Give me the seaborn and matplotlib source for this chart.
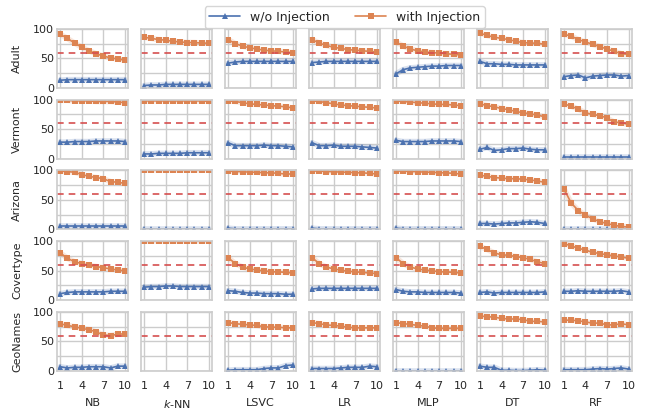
import numpy as np
import pandas as pd
import seaborn as sns
import matplotlib.pyplot as plt

models = ["NB", "$k$-NN", "LSVC", "LR", "MLP", "DT", "RF"]
datasets = ["Adult", "Vermont", "Arizona", "Covertype", "GeoNames"]
steps = list(range(1, 11))
threshold = 60

# rows = models (NB, k-NN, LSVC, LR, MLP, DT, RF), 10 values each
adult_wo = [
    [13, 14, 14, 14, 14, 14, 14, 14, 14, 14],
    [4, 5, 5, 6, 6, 6, 6, 6, 6, 6],
    [42, 44, 45, 45, 45, 45, 45, 45, 45, 45],
    [43, 44, 45, 45, 45, 45, 45, 45, 45, 45],
    [24, 31, 34, 35, 36, 37, 37, 38, 38, 38],
    [45, 41, 41, 40, 40, 39, 39, 39, 39, 39],
    [19, 21, 22, 17, 20, 21, 22, 22, 20, 21],
]
adult_with = [
    [91, 84, 76, 69, 63, 58, 54, 51, 49, 47],
    [86, 84, 82, 81, 79, 78, 77, 77, 76, 76],
    [82, 75, 71, 68, 66, 64, 63, 62, 61, 60],
    [82, 76, 72, 69, 67, 65, 64, 63, 62, 61],
    [78, 71, 66, 63, 61, 60, 59, 58, 57, 56],
    [93, 89, 86, 84, 82, 79, 77, 76, 76, 74],
    [91, 88, 82, 78, 74, 70, 66, 62, 58, 57],
]
vermont_wo = [
    [28, 28, 29, 29, 29, 30, 30, 30, 30, 29],
    [8, 8, 9, 9, 9, 9, 10, 10, 10, 10],
    [27, 22, 22, 22, 22, 23, 22, 22, 21, 20],
    [27, 22, 22, 23, 21, 21, 21, 20, 19, 18],
    [31, 29, 29, 29, 29, 30, 30, 30, 30, 29],
    [16, 19, 14, 15, 17, 17, 18, 16, 15, 15],
    [2, 2, 2, 2, 2, 2, 2, 2, 2, 2],
]
vermont_with = [
    [99, 99, 98, 98, 98, 97, 97, 97, 96, 95],
    [98, 98, 98, 98, 98, 98, 98, 98, 98, 97],
    [98, 97, 95, 93, 92, 91, 90, 89, 88, 86],
    [98, 97, 95, 93, 91, 90, 89, 88, 87, 86],
    [98, 97, 96, 95, 94, 93, 92, 92, 91, 90],
    [93, 90, 88, 85, 83, 80, 78, 76, 74, 71],
    [93, 89, 84, 78, 75, 73, 69, 62, 61, 58],
]
arizona_wo = [
    [6, 6, 6, 6, 6, 6, 6, 6, 6, 6],
    [1, 1, 1, 1, 1, 1, 1, 1, 1, 1],
    [2, 1, 1, 1, 1, 1, 1, 1, 1, 1],
    [2, 1, 1, 1, 1, 1, 1, 1, 1, 1],
    [2, 1, 1, 1, 1, 1, 1, 1, 1, 1],
    [10, 10, 9, 10, 11, 11, 12, 13, 12, 10],
    [0.3, 0.3, 0.3, 0.3, 0.3, 0.3, 0.3, 0.3, 0.3, 0.3],
]
arizona_with = [
    [99, 98, 97, 93, 90, 88, 86, 81, 80, 78],
    [100, 100, 100, 100, 100, 100, 100, 100, 100, 100],
    [99, 98, 98, 97, 97, 96, 96, 95, 94, 94],
    [99, 99, 98, 98, 97, 97, 96, 96, 95, 94],
    [99, 99, 98, 98, 97, 97, 96, 96, 95, 94],
    [92, 90, 88, 87, 86, 86, 85, 84, 82, 80],
    [69, 45, 32, 24, 18, 13, 10, 7, 5, 4],
]
covertype_wo = [
    [11, 13, 14, 14, 14, 14, 14, 15, 15, 15],
    [22, 23, 23, 24, 24, 23, 23, 23, 23, 23],
    [16, 15, 13, 12, 12, 11, 11, 11, 10, 10],
    [19, 20, 20, 20, 20, 20, 20, 20, 20, 20],
    [18, 15, 14, 14, 13, 13, 13, 13, 13, 12],
    [13, 14, 12, 13, 13, 13, 13, 13, 13, 14],
    [15, 15, 16, 15, 15, 15, 15, 15, 16, 14],
]
covertype_with = [
    [80, 71, 65, 62, 59, 57, 55, 53, 51, 50],
    [100, 100, 100, 100, 100, 100, 100, 100, 100, 100],
    [72, 62, 56, 53, 51, 50, 48, 48, 47, 46],
    [72, 62, 56, 53, 51, 49, 48, 47, 46, 45],
    [72, 62, 56, 53, 51, 50, 48, 48, 47, 46],
    [91, 86, 80, 77, 76, 74, 72, 69, 65, 62],
    [96, 92, 88, 85, 81, 79, 77, 75, 73, 71],
]
geonames_wo = [
    [7, 5, 6, 6, 7, 7, 7, 5, 8, 8],
    [np.nan] * 10,
    [1, 2, 2, 2, 2, 4, 5, 5, 9, 10],
    [4, 4, 4, 4, 5, 6, 6, 6, 8, 7],
    [0.3, 0.3, 0.3, 0.3, 0.3, 0.3, 0.3, 0.3, 0.3, 0.3],
    [8, 6, 6, 1, 1, 0.5, 0.5, 1, 2, 1],
    [2, 2, 2, 2, 3, 4, 3, 4, 5, 3],
]
geonames_with = [
    [80, 77, 75, 72, 70, 66, 61, 60, 62, 63],
    [np.nan] * 10,
    [82, 80, 79, 78, 77, 75, 74, 74, 73, 73],
    [82, 80, 78, 77, 76, 74, 73, 73, 73, 73],
    [82, 80, 79, 77, 76, 73, 72, 72, 72, 72],
    [93, 92, 91, 89, 88, 88, 87, 84, 84, 83],
    [86, 86, 85, 83, 81, 81, 78, 78, 80, 78],
]

results = {
    "Adult": (adult_wo, adult_with),
    "Vermont": (vermont_wo, vermont_with),
    "Arizona": (arizona_wo, arizona_with),
    "Covertype": (covertype_wo, covertype_with),
    "GeoNames": (geonames_wo, geonames_with),
}

rows = []
for ds in datasets:
    wo, wi = results[ds]
    for m, model in enumerate(models):
        for i, s in enumerate(steps):
            rows.append((ds, model, s, "w/o Injection", wo[m][i]))
            rows.append((ds, model, s, "with Injection", wi[m][i]))
df = pd.DataFrame(rows, columns=["dataset", "model", "step", "setting", "value"])

sns.set_theme(style="whitegrid")
plt.rcParams["font.family"] = ["DejaVu Sans"]
palette = {"w/o Injection": "#4C72B0", "with Injection": "#DD8452"}
markers = {"w/o Injection": "^", "with Injection": "s"}

fig, axes = plt.subplots(len(datasets), len(models), figsize=(6.48, 4.08), dpi=100,
                         sharex=True, sharey=True)
fig.subplots_adjust(left=0.088, right=0.975, top=0.929, bottom=0.091,
                    wspace=0.18, hspace=0.2)

for r, ds in enumerate(datasets):
    for c, model in enumerate(models):
        ax = axes[r, c]
        sub = df[(df.dataset == ds) & (df.model == model)].dropna()
        if len(sub):
            # soft band under each line
            sns.lineplot(data=sub, x="step", y="value", hue="setting", palette=palette,
                         lw=4, alpha=0.2, legend=False, ax=ax)
            sns.lineplot(data=sub, x="step", y="value", hue="setting", style="setting",
                         palette=palette, markers=markers, dashes=False, lw=1.2,
                         markersize=4.5, markeredgewidth=0, legend=False, ax=ax)
        ax.axhline(threshold, color="#d64f4f", ls="--", lw=1.2, dashes=(4, 3))
        ax.set_xlim(0.55, 10.45)
        ax.set_ylim(0, 100)
        ax.set_xticks([1, 4, 7, 10])
        ax.set_yticks([0, 25, 50, 75, 100])
        ax.set_yticklabels(["0", "", "50", "", "100"])
        ax.tick_params(labelsize=8, length=0)
        ax.tick_params(axis="x", pad=7)
        ax.tick_params(axis="y", pad=2)
        ax.set_xlabel(model if r == len(datasets) - 1 else "", fontsize=8, labelpad=5)
        ax.set_ylabel(ds if c == 0 else "", fontsize=8, labelpad=8)
        for sp in ax.spines.values():
            sp.set_color("#cccccc")
            sp.set_linewidth(1.2)

handles = [
    plt.Line2D([], [], color=palette[k], marker=markers[k], markersize=4,
               markeredgewidth=0, lw=1.2)
    for k in ["w/o Injection", "with Injection"]
]
fig.legend(handles, ["w/o Injection", "with Injection"], loc="upper center",
           bbox_to_anchor=(0.532, 1.0), ncol=2, fontsize=9, frameon=True,
           handlelength=2.5, columnspacing=2.0, borderpad=0.35)

fig.savefig("out.png", dpi=100)
